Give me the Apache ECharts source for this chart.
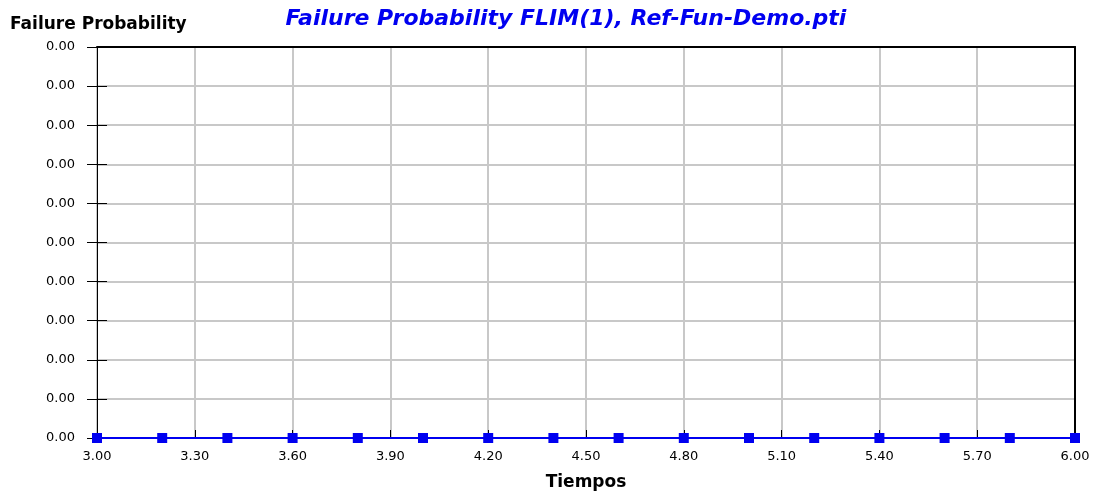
<!DOCTYPE html>
<html lang="en">
<head>
    <meta charset="UTF-8">
    <script src="https://cdn.jsdelivr.net/npm/echarts@6/dist/echarts.min.js"></script>
    <title>Failure Probability</title>
</head>
<body style="margin:0">
    <div id="chart_main" style="width:1095px; height:496px"></div>
<script>
    // time points and failure probability values
    var tiempos = [3.0, 3.2, 3.4, 3.6, 3.8, 4.0, 4.2, 4.4, 4.6, 4.8, 5.0, 5.2, 5.4, 5.6, 5.8, 6.0];
    var probability = [0, 0, 0, 0, 0, 0, 0, 0, 0, 0, 0, 0, 0, 0, 0, 0];

    var yMin = 0, yMax = 0.001, yStep = 0.0001;
    var xMin = 3, xMax = 6, xStep = 0.3;

    var Chart_Main = echarts.init(document.getElementById('chart_main'));

    var points = [];
    for (var i in tiempos) {
        points.push([tiempos[i], probability[i]]);
    }

    var fontFam = 'DejaVu Sans';

    option = {
        animation: false,
        title: {
            text: 'Failure Probability FLIM(1), Ref-Fun-Demo.pti',
            left: 561,
            textAlign: 'center',
            top: 3,
            textStyle: {
                color: '#0000f0',
                fontSize: 22,
                fontWeight: 'bold',
                fontStyle: 'italic',
                fontFamily: fontFam
            }
        },
        grid: {
            left: 97, right: 20, top: 47, bottom: 58
        },
        xAxis: [{
            type: 'value',
            min: xMin, max: xMax, interval: xStep,
            name: 'Tiempos',
            nameLocation: 'middle',
            nameGap: 36,
            nameTextStyle: {fontSize: 17, fontWeight: 'bold', fontFamily: fontFam, color: '#000'},
            axisLine: {lineStyle: {color: '#000', width: 1}},
            axisTick: {inside: true, length: 8, lineStyle: {color: '#000'}},
            axisLabel: {
                color: '#000', fontSize: 13, fontFamily: fontFam, margin: 12,
                formatter: function (v) { return v.toFixed(2); }
            },
            splitLine: {show: true, lineStyle: {color: '#c8c8c8', width: 2}}
        }, {
            // top border
            type: 'value',
            position: 'top',
            z: 1,
            min: xMin, max: xMax, interval: xStep,
            axisLine: {show: true, onZero: false, lineStyle: {color: '#000', width: 2}},
            axisTick: {show: false},
            axisLabel: {show: false},
            splitLine: {show: false}
        }],
        yAxis: [{
            type: 'value',
            min: yMin, max: yMax, interval: yStep,
            name: 'Failure Probability',
            nameLocation: 'end',
            nameGap: 14,
            nameTextStyle: {fontSize: 17, fontWeight: 'bold', fontFamily: fontFam, color: '#000', align: 'left', padding: [0, 0, 0, -87]},
            axisLine: {show: true, lineStyle: {color: '#000', width: 1}},
            axisTick: {show: true, length: 10, lineStyle: {color: '#000'}},
            axisLabel: {
                color: '#000', fontSize: 13, fontFamily: fontFam, margin: 22,
                formatter: function (v) { return v.toFixed(2); }
            },
            splitLine: {show: true, lineStyle: {color: '#c8c8c8', width: 2}}
        }, {
            // inner half of the crossing ticks
            type: 'value',
            position: 'left',
            z: 1,
            min: yMin, max: yMax, interval: yStep,
            axisLine: {show: false, onZero: false},
            axisTick: {show: true, inside: true, length: 10, lineStyle: {color: '#000'}},
            axisLabel: {show: false},
            splitLine: {show: false}
        }, {
            // right border
            type: 'value',
            position: 'right',
            z: 1,
            min: yMin, max: yMax, interval: yStep,
            axisLine: {show: true, onZero: false, lineStyle: {color: '#000', width: 2}},
            axisTick: {show: false},
            axisLabel: {show: false},
            splitLine: {show: false}
        }],
        series: [{
            name: 'Failure Probability',
            type: 'line',
            data: points,
            clip: false,
            z: 3,
            symbol: 'rect',
            symbolSize: 10,
            itemStyle: {color: '#0000f0'},
            lineStyle: {color: '#0000f0', width: 2}
        }]
    };

    Chart_Main.setOption(option);
</script>
</body>
</html>
